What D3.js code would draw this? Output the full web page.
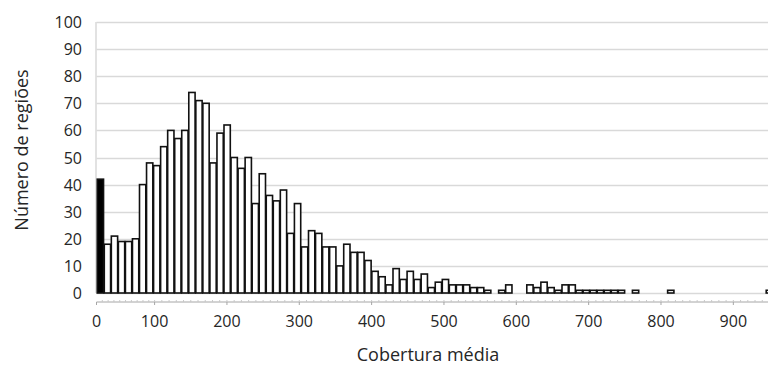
<!DOCTYPE html>
<html>
<head>
<meta charset="utf-8">
<script src="https://cdn.jsdelivr.net/npm/d3@7"></script>
<style>
  body { margin: 0; background: #fff; }
  text { font-family: "Open Sans", "DejaVu Sans", sans-serif; fill: #262626; }
</style>
</head>
<body>
<div id="container"></div>
<script>
// canvas
var width = 768;
var height = 367;

// ---------------------------- DATA ----------------------------//
// number of regions per coverage bin; the first bin (black) is zero coverage
var counts = [42,
  18, 21, 19, 19, 20, 40, 48, 47, 54, 60,
  57, 60, 74, 71, 70, 48, 59, 62, 50, 46,
  50, 33, 44, 36, 34, 38, 22, 33, 17, 23,
  22, 17, 17, 10, 18, 15, 15, 12, 8, 6,
  3, 9, 5, 8, 5, 7, 2, 4, 5, 3,
  3, 3, 2, 2, 1, 0, 1, 3, 0, 0,
  3, 2, 4, 2, 1, 3, 3, 1, 1, 1,
  1, 1, 1, 1, 0, 1, 0, 0, 0, 0,
  1, 0, 0, 0, 0, 0, 0, 0, 0, 0,
  0, 0, 0, 0, 1];
var bins = counts.map(function(d, i) { return i; });

var xTicks = [0, 100, 200, 300, 400, 500, 600, 700, 800, 900];
var yTicks = [0, 10, 20, 30, 40, 50, 60, 70, 80, 90, 100];

var xTitle = "Cobertura média";
var yTitle = "Número de regiões";

// ---------------------------- LAYOUT ----------------------------//
var plotLeft = 96.5, plotTop = 22, plotBottom = 293, plotRight = 769.5;
var barsRight = 772.5;
var axisY = 302;

var svg = d3.select("div#container").append("svg")
    .attr("width", width)
    .attr("height", height);

// bars sit on a category scale, the value axis below is a separate scale
var xBar = d3.scaleBand()
    .domain(bins)
    .range([plotLeft, barsRight])
    .padding(0);

var xAxisScale = d3.scaleLinear()
    .domain([0, 100, 950])
    .range([plotLeft, 154.6, plotRight]);

var yScale = d3.scaleLinear()
    .domain([0, 100])
    .range([plotBottom, plotTop]);

// gridlines
svg.append("g")
    .selectAll("line")
    .data(yTicks)
    .enter()
    .append("line")
    .attr("x1", plotLeft)
    .attr("x2", width)
    .attr("y1", function(d) { return Math.round(yScale(d)) + 0.5; })
    .attr("y2", function(d) { return Math.round(yScale(d)) + 0.5; })
    .style("stroke", "#d9d9d9")
    .style("stroke-width", 1.5);

// left border of plot
svg.append("line")
    .attr("x1", plotLeft - 0.5).attr("x2", plotLeft - 0.5)
    .attr("y1", plotTop).attr("y2", plotBottom)
    .style("stroke", "#d9d9d9")
    .style("stroke-width", 1.5);

// y tick labels
svg.append("g")
    .selectAll("text")
    .data(yTicks)
    .enter()
    .append("text")
    .attr("x", 82)
    .attr("y", function(d) { return yScale(d) + 6; })
    .style("text-anchor", "end")
    .style("font-size", "16px")
    .text(function(d) { return d; });

// ---------------------------- BARS ----------------------------//
svg.append("g")
    .selectAll("rect")
    .data(bins.filter(function(i) { return counts[i] > 0; }))
    .enter()
    .append("rect")
    .attr("x", function(i) { return xBar(i) + 0.75; })
    .attr("y", function(i) { return yScale(counts[i]); })
    .attr("width", xBar.bandwidth() - 0.75)
    .attr("height", function(i) { return yScale(0) - yScale(counts[i]); })
    .style("fill", function(i) { return i === 0 ? "#000" : "#fff"; })
    .style("stroke", "#111")
    .style("stroke-width", 1.6);

// ---------------------------- X AXIS ----------------------------//
var xg = svg.append("g");

xg.append("line")
    .attr("x1", plotLeft).attr("x2", width)
    .attr("y1", axisY).attr("y2", axisY)
    .style("stroke", "#a6a6a6")
    .style("stroke-width", 1);

xg.selectAll(".minor")
    .data(d3.range(10, 951, 10))
    .enter()
    .append("line")
    .attr("class", "minor")
    .attr("x1", function(d) { return xAxisScale(d); })
    .attr("x2", function(d) { return xAxisScale(d); })
    .attr("y1", axisY - 2)
    .attr("y2", axisY)
    .style("stroke", "#c8c8c8")
    .style("stroke-width", 1);

xg.selectAll(".major")
    .data(xTicks)
    .enter()
    .append("line")
    .attr("class", "major")
    .attr("x1", function(d) { return xAxisScale(d); })
    .attr("x2", function(d) { return xAxisScale(d); })
    .attr("y1", axisY)
    .attr("y2", axisY + 3)
    .style("stroke", "#a6a6a6")
    .style("stroke-width", 1);

xg.selectAll("text")
    .data(xTicks)
    .enter()
    .append("text")
    .attr("x", function(d) { return xAxisScale(d); })
    .attr("y", 327)
    .style("text-anchor", "middle")
    .style("font-size", "16px")
    .text(function(d) { return d; });

// ---------------------------- TITLES ----------------------------//
svg.append("text")
    .attr("x", 428)
    .attr("y", 361)
    .style("text-anchor", "middle")
    .style("font-size", "18px")
    .text(xTitle);

svg.append("text")
    .attr("transform", "translate(28,150) rotate(-90)")
    .style("text-anchor", "middle")
    .style("font-size", "18px")
    .text(yTitle);
</script>
</body>
</html>
